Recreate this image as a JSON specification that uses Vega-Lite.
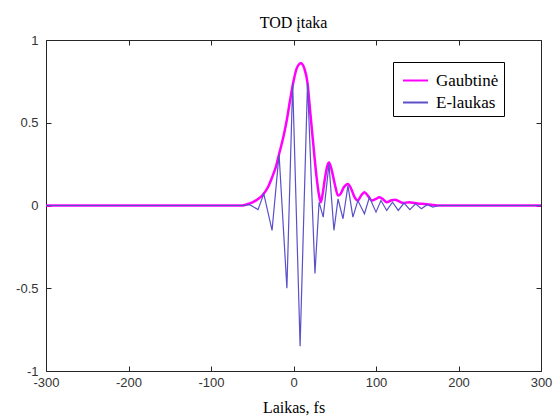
{
  "$schema": "https://vega.github.io/schema/vega-lite/v6.json",
  "width": 495,
  "height": 331,
  "autosize": {"type": "none"},
  "padding": {"left": 46, "top": 40, "right": 14, "bottom": 48},
  "background": "white",
  "title": {"text": "TOD įtaka", "font": "Liberation Serif", "fontSize": 16, "fontWeight": "normal", "color": "#000", "frame": "group", "anchor": "middle", "offset": 3},
  "config": {
    "view": {"stroke": "#262626", "strokeWidth": 1},
    "axis": {"grid": false, "domain": false, "tickSize": -5, "tickColor": "#262626", "labelFont": "Liberation Sans", "labelFontSize": 13, "labelColor": "#333", "labelFlush": false, "labelOverlap": false, "titleFont": "Liberation Serif", "titleFontSize": 16, "titleFontWeight": "normal", "titleColor": "#000"}
  },
  "datasets": {
    "env": [
      {"t": -300, "v": 0, "s": "Gaubtinė"}, {"t": -62, "v": 0, "s": "Gaubtinė"}, {"t": -58, "v": 0.005, "s": "Gaubtinė"},
      {"t": -49, "v": 0.02, "s": "Gaubtinė"}, {"t": -43, "v": 0.04, "s": "Gaubtinė"}, {"t": -38, "v": 0.06, "s": "Gaubtinė"},
      {"t": -31, "v": 0.11, "s": "Gaubtinė"}, {"t": -26, "v": 0.17, "s": "Gaubtinė"}, {"t": -21, "v": 0.24, "s": "Gaubtinė"},
      {"t": -17, "v": 0.32, "s": "Gaubtinė"}, {"t": -12, "v": 0.42, "s": "Gaubtinė"}, {"t": -8, "v": 0.52, "s": "Gaubtinė"},
      {"t": -4, "v": 0.64, "s": "Gaubtinė"}, {"t": 0, "v": 0.75, "s": "Gaubtinė"}, {"t": 4, "v": 0.83, "s": "Gaubtinė"},
      {"t": 9, "v": 0.86, "s": "Gaubtinė"}, {"t": 13, "v": 0.83, "s": "Gaubtinė"}, {"t": 17, "v": 0.74, "s": "Gaubtinė"},
      {"t": 20, "v": 0.58, "s": "Gaubtinė"}, {"t": 24, "v": 0.37, "s": "Gaubtinė"}, {"t": 28, "v": 0.17, "s": "Gaubtinė"},
      {"t": 31, "v": 0.06, "s": "Gaubtinė"}, {"t": 33, "v": 0.02, "s": "Gaubtinė"}, {"t": 35, "v": 0.06, "s": "Gaubtinė"},
      {"t": 38, "v": 0.16, "s": "Gaubtinė"}, {"t": 41, "v": 0.24, "s": "Gaubtinė"}, {"t": 43, "v": 0.26, "s": "Gaubtinė"},
      {"t": 46, "v": 0.22, "s": "Gaubtinė"}, {"t": 50, "v": 0.13, "s": "Gaubtinė"}, {"t": 54, "v": 0.06, "s": "Gaubtinė"},
      {"t": 57, "v": 0.07, "s": "Gaubtinė"}, {"t": 61, "v": 0.11, "s": "Gaubtinė"}, {"t": 66, "v": 0.13, "s": "Gaubtinė"},
      {"t": 70, "v": 0.10, "s": "Gaubtinė"}, {"t": 74, "v": 0.05, "s": "Gaubtinė"}, {"t": 78, "v": 0.03, "s": "Gaubtinė"},
      {"t": 82, "v": 0.06, "s": "Gaubtinė"}, {"t": 86, "v": 0.08, "s": "Gaubtinė"}, {"t": 90, "v": 0.06, "s": "Gaubtinė"},
      {"t": 95, "v": 0.03, "s": "Gaubtinė"}, {"t": 100, "v": 0.04, "s": "Gaubtinė"}, {"t": 104, "v": 0.05, "s": "Gaubtinė"},
      {"t": 108, "v": 0.04, "s": "Gaubtinė"}, {"t": 113, "v": 0.02, "s": "Gaubtinė"}, {"t": 118, "v": 0.03, "s": "Gaubtinė"},
      {"t": 123, "v": 0.035, "s": "Gaubtinė"}, {"t": 128, "v": 0.025, "s": "Gaubtinė"}, {"t": 133, "v": 0.015, "s": "Gaubtinė"},
      {"t": 140, "v": 0.02, "s": "Gaubtinė"}, {"t": 147, "v": 0.015, "s": "Gaubtinė"}, {"t": 155, "v": 0.01, "s": "Gaubtinė"},
      {"t": 162, "v": 0.008, "s": "Gaubtinė"}, {"t": 170, "v": 0.003, "s": "Gaubtinė"}, {"t": 176, "v": 0, "s": "Gaubtinė"},
      {"t": 300, "v": 0, "s": "Gaubtinė"}
    ],
    "field": [
      {"t": -300, "v": 0, "s": "E-laukas"}, {"t": -60, "v": 0, "s": "E-laukas"}, {"t": -53, "v": 0.005, "s": "E-laukas"},
      {"t": -43, "v": -0.025, "s": "E-laukas"}, {"t": -36, "v": 0.07, "s": "E-laukas"}, {"t": -26, "v": -0.15, "s": "E-laukas"},
      {"t": -17.5, "v": 0.31, "s": "E-laukas"}, {"t": -8, "v": -0.5, "s": "E-laukas"}, {"t": -1, "v": 0.74, "s": "E-laukas"},
      {"t": 8, "v": -0.85, "s": "E-laukas"}, {"t": 17, "v": 0.74, "s": "E-laukas"}, {"t": 26, "v": -0.41, "s": "E-laukas"},
      {"t": 31, "v": 0.02, "s": "E-laukas"}, {"t": 36, "v": -0.07, "s": "E-laukas"}, {"t": 43, "v": 0.25, "s": "E-laukas"},
      {"t": 49, "v": -0.15, "s": "E-laukas"}, {"t": 54, "v": 0.04, "s": "E-laukas"}, {"t": 60, "v": -0.08, "s": "E-laukas"},
      {"t": 66, "v": 0.12, "s": "E-laukas"}, {"t": 72, "v": -0.07, "s": "E-laukas"}, {"t": 78, "v": 0.03, "s": "E-laukas"},
      {"t": 86, "v": -0.05, "s": "E-laukas"}, {"t": 92, "v": 0.05, "s": "E-laukas"}, {"t": 100, "v": -0.04, "s": "E-laukas"},
      {"t": 106, "v": 0.03, "s": "E-laukas"}, {"t": 113, "v": -0.03, "s": "E-laukas"}, {"t": 120, "v": 0.02, "s": "E-laukas"},
      {"t": 127, "v": -0.03, "s": "E-laukas"}, {"t": 134, "v": 0.015, "s": "E-laukas"}, {"t": 141, "v": -0.025, "s": "E-laukas"},
      {"t": 148, "v": 0.01, "s": "E-laukas"}, {"t": 155, "v": -0.02, "s": "E-laukas"}, {"t": 162, "v": 0.005, "s": "E-laukas"},
      {"t": 169, "v": -0.01, "s": "E-laukas"}, {"t": 176, "v": 0, "s": "E-laukas"}, {"t": 300, "v": 0, "s": "E-laukas"}
    ]
  },
  "layer": [
    {
      "data": {"name": "env"},
      "mark": {"type": "line", "strokeWidth": 2.5, "interpolate": "monotone"},
      "encoding": {
        "x": {"field": "t", "type": "quantitative", "scale": {"domain": [-300, 300], "nice": false, "zero": false},
              "axis": {"orient": "bottom", "values": [-300, -200, -100, 0, 100, 200, 300], "labelExpr": "'' + datum.value", "labelPadding": 10, "title": "Laikas, fs", "titlePadding": 10}},
        "y": {"field": "v", "type": "quantitative", "scale": {"domain": [-1, 1], "nice": false, "zero": false},
              "axis": {"orient": "left", "values": [-1, -0.5, 0, 0.5, 1], "labelExpr": "'' + datum.value", "labelPadding": 13, "title": null}},
        "color": {"field": "s", "type": "nominal", "scale": {"domain": ["Gaubtinė", "E-laukas"], "range": ["#ff00ff", "#5a50c8"]},
                  "legend": {"title": null, "orient": "none", "legendX": 347, "legendY": 22, "strokeColor": "#000", "fillColor": "#fff", "padding": 5, "symbolType": "stroke", "symbolSize": 625, "symbolStrokeWidth": 2, "labelFont": "Liberation Serif", "labelFontSize": 17, "labelColor": "#000", "rowPadding": 0, "symbolOffset": 4, "labelOffset": 7}}
      }
    },
    {
      "data": {"name": "field"},
      "mark": {"type": "line", "strokeWidth": 1.2},
      "encoding": {
        "x": {"field": "t", "type": "quantitative", "axis": {"orient": "top", "values": [-300, -200, -100, 0, 100, 200, 300], "labels": false, "title": null}},
        "y": {"field": "v", "type": "quantitative", "axis": {"orient": "right", "values": [-1, -0.5, 0, 0.5, 1], "labels": false, "title": null}},
        "color": {"field": "s", "type": "nominal"}
      }
    }
  ],
  "resolve": {"axis": {"x": "independent", "y": "independent"}}
}
